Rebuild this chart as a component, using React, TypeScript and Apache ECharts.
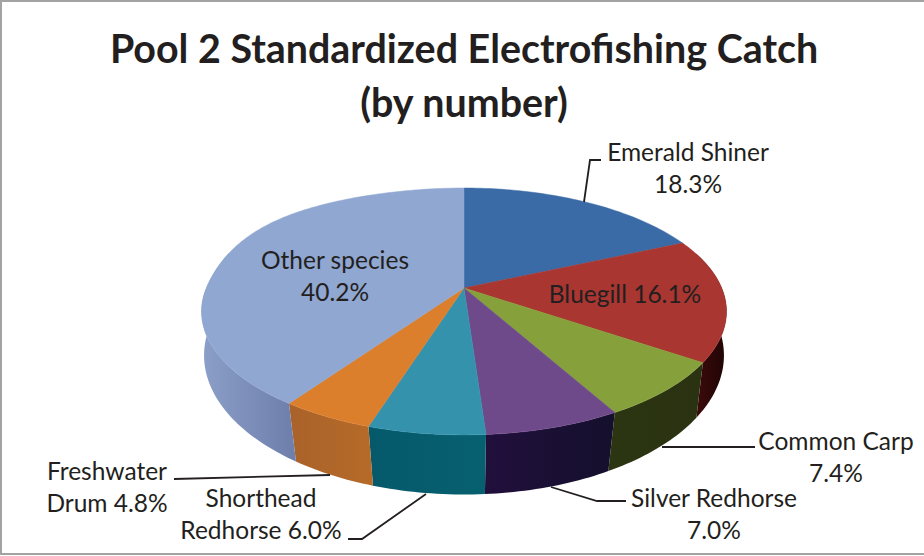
import React, { useEffect, useRef } from "react";
import * as echarts from "echarts";

const categories = ["Emerald Shiner", "Bluegill", "Common Carp", "Silver Redhorse", "Shorthead Redhorse", "Freshwater Drum", "Other species"];
const catchPercent = [18.3, 16.1, 7.4, 7.0, 6.0, 4.8, 40.2];
const topColors = ["#3a6ba6", "#a93631", "#86a13b", "#6e4a8b", "#3592ad", "#dc7f2d", "#8fa7d1"];
const wallLeft = ["#2a4f7c", "#3d0a0a", "#2c3511", "#210f3c", "#05596b", "#a9622a", "#8b9fc8"];
const wallRight = ["#2a4f7c", "#1f0505", "#2a3212", "#14102c", "#07606f", "#b56a28", "#6f80ad"];
const labelText = [
  ["Emerald Shiner", "18.3%"],
  ["Bluegill 16.1%"],
  ["Common Carp", "7.4%"],
  ["Silver Redhorse", "7.0%"],
  ["Shorthead", "Redhorse 6.0%"],
  ["Freshwater", "Drum 4.8%"],
  ["Other species", "40.2%"],
];
const titleText = "Pool 2 Standardized Electrofishing Catch\n(by number)";

const total = catchPercent.reduce((a, b) => a + b, 0);
const fractionBefore = (i: number) => catchPercent.slice(0, i).reduce((a, b) => a + b, 0) / total;

// Perspective projection of the pie's circular rims
const CX = 464;
const TOP = { y0: 288, a: 119, b: 257.7, k: 0.19, bulge: 10.5 };
const BOTTOM = { y0: 334.5, a: 136, b: 257, k: 0.15, bulge: 0 };
const project = (rim: typeof TOP, th: number) => {
  const s = Math.sin(th), c = Math.cos(th), w = 1 + rim.k * c;
  // the reference's rim is slightly fuller in its back-left quadrant
  const extra = s < 0 && c > 0 ? -rim.bulge * Math.pow(2 * s * c, 2) : 0;
  return [CX + (rim.b * s) / w + extra, rim.y0 - (rim.a * c) / w];
};
const arc = (rim: typeof TOP, from: number, to: number) => {
  const n = Math.max(2, Math.ceil(Math.abs(to - from) / 0.02));
  const pts: number[][] = [];
  for (let i = 0; i <= n; i++) pts.push(project(rim, from + ((to - from) * i) / n));
  return pts;
};
const angles = (i: number) => [fractionBefore(i) * 2 * Math.PI, fractionBefore(i + 1) * 2 * Math.PI];

const seriesData = categories.map((name, i) => ({ name, value: catchPercent[i] }));

const wallItem = (params: any) => {
  const i = params.dataIndex;
  const [a0, a1] = angles(i);
  const from = Math.max(a0, Math.PI * 0.4);
  const to = Math.min(a1, Math.PI * 1.6);
  if (to <= from) return { type: "group", children: [] };
  const up = arc(TOP, from, to);
  const down = arc(BOTTOM, from, to).reverse();
  const xs = up.map((p) => p[0]);
  return {
    type: "polygon",
    shape: { points: up.concat(down) },
    style: {
      fill: {
        type: "linear",
        x: Math.min(...xs), y: 0, x2: Math.max(...xs), y2: 0, global: true,
        colorStops: [
          { offset: 0, color: wallLeft[i] },
          { offset: 1, color: wallRight[i] },
        ],
      },
      stroke: null,
    },
  };
};

const topItem = (params: any) => {
  const i = params.dataIndex;
  const [a0, a1] = angles(i);
  return {
    type: "polygon",
    shape: { points: [[CX, TOP.y0], ...arc(TOP, a0, a1)] },
    style: { fill: topColors[i], stroke: topColors[i], lineWidth: 0.5 },
  };
};

const labelPositions = [
  [688, 151], [625, 293], [836, 440], [714, 497], [261, 497], [107, 470], [335, 259],
];
const LINE_GAP = 32;
const leaders = [
  [[584, 202], [590, 160], [601, 160]],
  [[662, 447], [755, 447]],
  [[551, 487], [597, 501], [626, 501]],
  [[426, 494], [362, 539], [348, 539]],
  [[330, 475], [174, 479]],
];

const graphicElements: any[] = [
  {
    type: "rect", z: 0,
    shape: { x: 1, y: 1, width: 940, height: 553 },
    style: { fill: "#ffffff", stroke: "#a3a3a3", lineWidth: 2 },
  },
  ...leaders.map((points) => ({
    type: "polyline", z: 5,
    shape: { points },
    style: { fill: null, stroke: "#231f20", lineWidth: 1.8 },
  })),
  ...labelText.flatMap((lines, i) =>
    lines.map((text, j) => ({
      type: "text", z: 10,
      x: labelPositions[i][0],
      y: labelPositions[i][1] + j * LINE_GAP,
      style: {
        text,
        align: "center",
        verticalAlign: "middle",
        fill: "#231f20",
        font: '24.5px Lato',
      },
    }))
  ),
];

const option: any = {
  animation: false,
  backgroundColor: "#ffffff",
  title: {
    text: titleText,
    left: 459,
    top: 15,
    textAlign: "center",
    textStyle: { fontFamily: "Lato", fontWeight: "bold", fontSize: 39.4, lineHeight: 54, color: "#231f20" },
    z: 10,
  },
  graphic: { elements: graphicElements },
  series: [
    { type: "custom", coordinateSystem: "none", z: 2, silent: true, data: seriesData, renderItem: wallItem },
    { type: "custom", coordinateSystem: "none", z: 3, silent: true, data: seriesData, renderItem: topItem },
  ],
};

export default function App() {
  const ref = useRef<HTMLDivElement>(null);
  useEffect(() => {
    document.body.style.margin = "0";
    const chart = echarts.init(ref.current!, undefined, { renderer: "svg" });
    chart.setOption(option);
    return () => chart.dispose();
  }, []);
  return <div ref={ref} style={{ width: 924, height: 556 }} />;
}
